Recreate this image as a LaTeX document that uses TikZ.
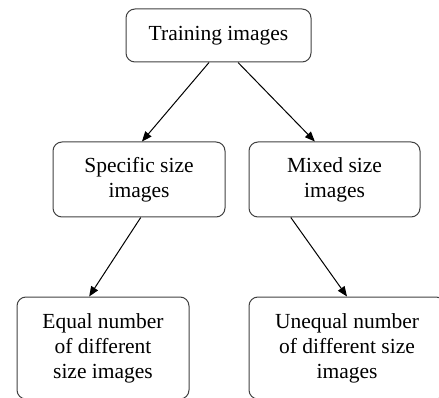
\documentclass[tikz,border=0pt]{standalone}
\usepackage{fontspec}
\setmainfont{Liberation Serif}
\usetikzlibrary{calc,arrows.meta}
\begin{document}
\begin{tikzpicture}[x=1pt,y=-1pt,
  box/.style={draw=black!75,line width=1pt,rounded corners=9pt,inner sep=0pt,align=center,
    font=\fontsize{21.5}{25}\selectfont,text=black},
  arr/.style={-{Triangle[length=10pt,width=8pt]},line width=1pt,black}]
\useasboundingbox (0,0) rectangle (439,398);
\clip (0,0) rectangle (439,398);
\node[box,minimum width=185pt,minimum height=53pt] (top) at (218.5,35.5) {Training images};
\node[box,minimum width=172pt,minimum height=75pt] (spec) at (139,179.5) {Specific size\\images};
\node[box,minimum width=171pt,minimum height=75pt] (mix) at (334.5,179.5) {Mixed size\\images};
\node[box,minimum width=172pt,minimum height=102pt] (eq) at (103,348) {Equal number\\of different\\size images};
\node[box,minimum width=196pt,minimum height=102pt] (uneq) at (347,348) {Unequal number\\of different size\\images};
\draw[arr] ($(top.south west)!0.449!(top.south east)$) -- ($(spec.north west)!0.517!(spec.north east)$);
\draw[arr] ($(top.south west)!0.605!(top.south east)$) -- ($(mix.north west)!0.386!(mix.north east)$);
\draw[arr] ($(spec.south west)!0.51!(spec.south east)$) -- ($(eq.north west)!0.42!(eq.north east)$);
\draw[arr] ($(mix.south west)!0.246!(mix.south east)$) -- ($(uneq.north west)!0.5!(uneq.north east)$);
\end{tikzpicture}
\end{document}
